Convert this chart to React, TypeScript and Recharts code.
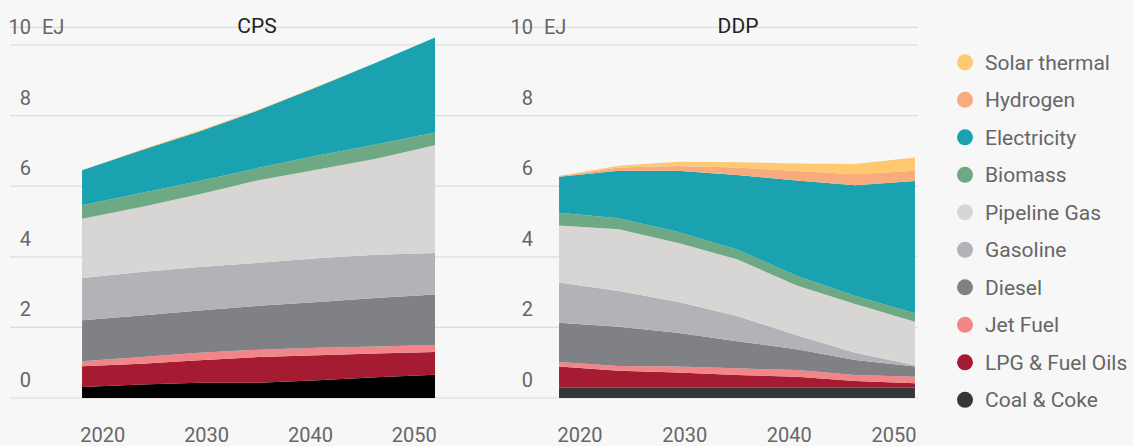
import React from 'react';
import { AreaChart, Area, XAxis, YAxis, CartesianGrid } from 'recharts';

// ---- data (EJ) ----
const years = [2018, 2023.7, 2029.3, 2035, 2040.7, 2046.3, 2052];
const xTicks = [2020, 2030, 2040, 2050];
const yTicks = [0, 2, 4, 6, 8, 10];

const seriesNames = ['Coal & Coke', 'LPG & Fuel Oils', 'Jet Fuel', 'Diesel', 'Gasoline', 'Pipeline Gas', 'Biomass', 'Electricity', 'Hydrogen', 'Solar thermal'];
const seriesKeys = ['coal', 'lpg', 'jet', 'diesel', 'gasoline', 'pipeline', 'biomass', 'electricity', 'hydrogen', 'solar'];
const seriesColors = ['#33363a', '#a51b31', '#f28587', '#808185', '#b2b3b7', '#d7d6d4', '#6ea983', '#1ba2b0', '#f8ac7d', '#fec96f'];

// CPS scenario
const cpsCoal = [0.31, 0.38, 0.43, 0.43, 0.5, 0.59, 0.66];
const cpsLpg = [0.59, 0.59, 0.64, 0.73, 0.71, 0.67, 0.64];
const cpsJet = [0.14, 0.19, 0.21, 0.21, 0.21, 0.2, 0.2];
const cpsDiesel = [1.16, 1.18, 1.2, 1.24, 1.3, 1.37, 1.43];
const cpsGasoline = [1.2, 1.23, 1.23, 1.22, 1.24, 1.23, 1.18];
const cpsPipeline = [1.68, 1.84, 2.06, 2.34, 2.51, 2.72, 3.05];
const cpsBiomass = [0.38, 0.4, 0.38, 0.35, 0.4, 0.4, 0.36];
const cpsElectricity = [0.99, 1.21, 1.4, 1.63, 1.95, 2.32, 2.69];
const cpsHydrogen = [0, 0, 0, 0, 0, 0, 0];
const cpsSolar = [0, 0.02, 0.03, 0.02, 0.01, 0, 0];

// DDP scenario
const ddpCoal = [0.3, 0.3, 0.3, 0.3, 0.3, 0.3, 0.3];
const ddpLpg = [0.59, 0.47, 0.42, 0.35, 0.3, 0.18, 0.12];
const ddpJet = [0.13, 0.14, 0.17, 0.19, 0.19, 0.17, 0.18];
const ddpDiesel = [1.11, 1.11, 0.96, 0.77, 0.59, 0.43, 0.29];
const ddpGasoline = [1.14, 1.01, 0.88, 0.71, 0.4, 0.2, 0.04];
const ddpPipeline = [1.62, 1.75, 1.67, 1.61, 1.41, 1.38, 1.23];
const ddpBiomass = [0.36, 0.31, 0.31, 0.28, 0.27, 0.23, 0.24];
const ddpElectricity = [1.02, 1.35, 1.73, 2.11, 2.7, 3.14, 3.75];
const ddpHydrogen = [0.02, 0.09, 0.13, 0.21, 0.27, 0.31, 0.29];
const ddpSolar = [0, 0.05, 0.12, 0.15, 0.21, 0.29, 0.37];

const cpsSeries = [cpsCoal, cpsLpg, cpsJet, cpsDiesel, cpsGasoline, cpsPipeline, cpsBiomass, cpsElectricity, cpsHydrogen, cpsSolar];
const ddpSeries = [ddpCoal, ddpLpg, ddpJet, ddpDiesel, ddpGasoline, ddpPipeline, ddpBiomass, ddpElectricity, ddpHydrogen, ddpSolar];

const buildRows = (series: number[][]) =>
  years.map((year, i) => {
    const row: Record<string, number> = { year };
    seriesKeys.forEach((k, j) => {
      row[k] = series[j][i];
    });
    return row;
  });

const cpsData = buildRows(cpsSeries);
const ddpData = buildRows(ddpSeries);

const FONT = 'Roboto, "Noto Sans", sans-serif';
const LABEL = '#666';

function makeYTick(labelX: number) {
  return (props: any) => {
    const { y, payload } = props;
    return (
      <g>
        <text x={labelX} y={y - 11} textAnchor="end" fontSize={20} fill={LABEL} fontFamily={FONT}>
          {payload.value}
        </text>
        {payload.value === 10 ? (
          <text x={labelX + 11} y={y - 11} textAnchor="start" fontSize={20} fill={LABEL} fontFamily={FONT}>
            EJ
          </text>
        ) : null}
      </g>
    );
  };
}

const XTick = (props: any) => {
  const { x, payload } = props;
  return (
    <text x={x} y={442} textAnchor="middle" fontSize={20} fill={LABEL} fontFamily={FONT}>
      {payload.value}
    </text>
  );
};

type PanelProps = {
  data: Record<string, number>[];
  left: number;
  width: number;
  marginLeft: number;
  domain: [number, number];
  labelX: number;
  coalColor: string;
};

function Panel({ data, left, width, marginLeft, domain, labelX, coalColor }: PanelProps) {
  return (
    <div style={{ position: 'absolute', left, top: 0 }}>
      <AreaChart width={width} height={446} data={data} margin={{ top: 27.35, right: 0, bottom: 0, left: marginLeft }}>
        <CartesianGrid horizontal vertical={false} stroke="#dcdcdc" strokeWidth={1.2} />
        <XAxis
          dataKey="year"
          type="number"
          domain={domain}
          allowDataOverflow
          ticks={xTicks}
          height={48}
          axisLine={false}
          tickLine={false}
          tick={<XTick />}
          interval={0}
        />
        <YAxis
          type="number"
          domain={[0, 10.5]}
          allowDataOverflow
          ticks={yTicks}
          width={1}
          axisLine={false}
          tickLine={false}
          tick={makeYTick(labelX)}
          interval={0}
        />
        {seriesKeys.map((k, j) => (
          <Area
            key={k}
            dataKey={k}
            name={seriesNames[j]}
            stackId="1"
            type="linear"
            fill={j === 0 ? coalColor : seriesColors[j]}
            fillOpacity={1}
            stroke="none"
            dot={false}
            activeDot={false}
            isAnimationActive={false}
          />
        ))}
      </AreaChart>
    </div>
  );
}

export default function App() {
  const legendOrder = seriesKeys.map((_, i) => i).reverse();
  return (
    <div
      style={{
        position: 'absolute',
        left: 0,
        top: 0,
        width: 1133,
        height: 446,
        background: '#f7f7f7',
        overflow: 'hidden',
        fontFamily: FONT,
      }}
    >
      <Panel data={cpsData} left={0} width={500} marginLeft={9} domain={[2011.06, 2058.26]} labelX={31} coalColor="#000000" />
      <Panel data={ddpData} left={499} width={419} marginLeft={0} domain={[2012.36, 2052.29]} labelX={34} coalColor={seriesColors[0]} />
      <svg width={1133} height={446} style={{ position: 'absolute', left: 0, top: 0, pointerEvents: 'none' }}>
        <text x={257} y={33} textAnchor="middle" fontSize={21} fill="#222" fontFamily={FONT}>
          CPS
        </text>
        <text x={738} y={33} textAnchor="middle" fontSize={21} fill="#222" fontFamily={FONT}>
          DDP
        </text>
        {legendOrder.map((idx, row) => {
          const cy = 62.3 + row * 37.5;
          return (
            <g key={seriesKeys[idx]}>
              <circle cx={965} cy={cy} r={8} fill={seriesColors[idx]} />
              <text x={985} y={cy + 7.5} fontSize={21} fill={LABEL} fontFamily={FONT}>
                {seriesNames[idx]}
              </text>
            </g>
          );
        })}
      </svg>
    </div>
  );
}
